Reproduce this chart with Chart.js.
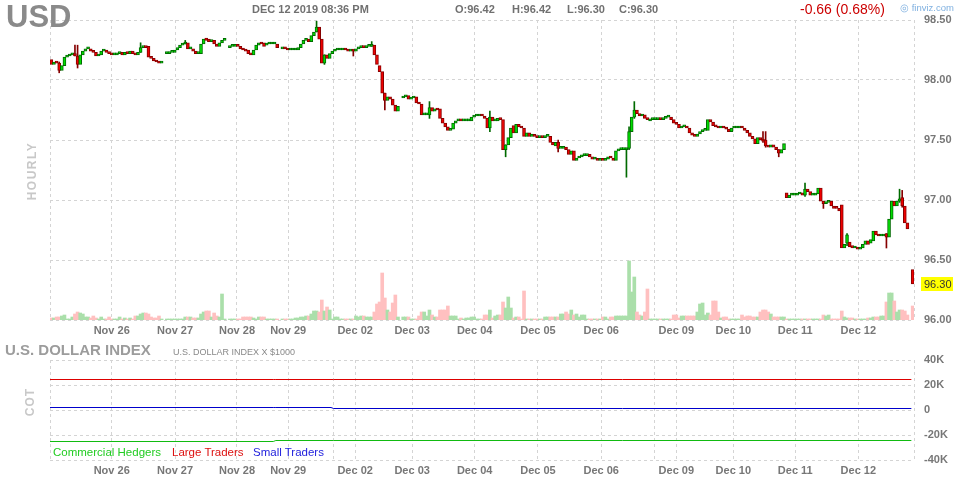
<!DOCTYPE html>
<html>
<head>
<meta charset="utf-8">
<script src="https://cdn.jsdelivr.net/npm/chart.js@4.4.0/dist/chart.umd.min.js"></script>
<style>
  body { margin: 0; background: #fff; width: 964px; height: 480px; overflow: hidden; position: relative; font-family: Arial, "Liberation Sans", sans-serif; }
  canvas { position: absolute; left: 0; }
  .t { position: absolute; white-space: nowrap; line-height: 1; }
  .rot { position: absolute; white-space: nowrap; line-height: 1; transform: rotate(-90deg); transform-origin: center center; font-weight: bold; color: #c8c8c8; }
</style>
</head>
<body>
<canvas id="price" width="964" height="340" style="top:0"></canvas>
<canvas id="cot" width="964" height="140" style="top:340px"></canvas>

<div class="t" style="left:6px;top:1px;font-size:31px;font-weight:bold;color:#8a8a8a">USD</div>
<div class="t" style="left:252px;top:4px;font-size:11px;font-weight:bold;color:#707070">DEC 12 2019 08:36 PM</div>
<div class="t" style="left:455px;top:4px;font-size:11px;font-weight:bold;color:#707070">O:96.42</div>
<div class="t" style="left:512px;top:4px;font-size:11px;font-weight:bold;color:#707070">H:96.42</div>
<div class="t" style="left:567px;top:4px;font-size:11px;font-weight:bold;color:#707070">L:96.30</div>
<div class="t" style="left:619px;top:4px;font-size:11px;font-weight:bold;color:#707070">C:96.30</div>
<div class="t" style="left:800px;top:2px;font-size:14px;color:#cc0000">-0.66 (0.68%)</div>
<div class="t" style="left:900px;top:3px;font-size:9.5px;color:#7fb0e0">&#9678; finviz.com</div>
<div class="rot" style="left:2px;top:165px;width:60px;text-align:center;font-size:12px;letter-spacing:1.5px">HOURLY</div>

<div class="t" style="left:5px;top:342px;font-size:15px;font-weight:bold;color:#9c9c9c">U.S. DOLLAR INDEX</div>
<div class="t" style="left:173px;top:348px;font-size:9px;color:#888">U.S. DOLLAR INDEX X $1000</div>
<div class="rot" style="left:10px;top:396px;width:40px;text-align:center;font-size:12px;letter-spacing:1px">COT</div>
<div class="t" style="left:53px;top:447px;font-size:11.5px;color:#22cc22">Commercial Hedgers</div>
<div class="t" style="left:172px;top:447px;font-size:11.5px;color:#dd1111">Large Traders</div>
<div class="t" style="left:253px;top:447px;font-size:11.5px;color:#2222dd">Small Traders</div>

<script>
const fontFamily = 'Arial, "Liberation Sans", sans-serif';

// x axis: one slot per hourly candle, gridlines at session starts
const slotCount = 329;
const dayTicks = [0, 23.5, 47.6, 71.2, 90.7, 107.8, 116.2, 137.9, 161.7, 185.8, 209.9, 230.3, 238.5, 260.2, 283.8, 307.8, 329];
const dayLabels = ['', 'Nov 26', 'Nov 27', 'Nov 28', 'Nov 29', '', 'Dec 02', 'Dec 03', 'Dec 04', 'Dec 05', 'Dec 06', '', 'Dec 09', 'Dec 10', 'Dec 11', 'Dec 12', ''];

// hourly candles (null = no bar)
const opens = [
  98.17,98.13,98.15,98.14,98.08,98.12,98.19,98.20,98.21,98.22,
  98.20,98.13,98.21,98.24,98.26,98.26,98.24,98.23,98.20,98.21,
  98.24,98.25,98.23,98.22,98.21,98.21,98.22,98.23,98.21,98.23,
  98.22,98.24,98.22,98.21,98.23,98.27,98.28,98.28,98.19,98.18,
  98.16,98.15,98.14,null,98.22,98.22,98.23,98.23,98.25,98.27,
  98.29,98.30,98.31,98.26,98.26,98.24,98.22,98.22,98.30,98.35,
  98.34,98.32,98.33,98.30,98.28,98.31,98.33,null,98.27,98.28,
  98.28,98.29,98.28,98.26,98.25,98.25,98.22,98.21,98.25,98.29,
  98.31,98.31,98.29,98.30,98.30,98.30,98.30,null,98.26,98.27,
  98.26,98.25,98.25,98.25,98.25,98.27,98.30,98.33,98.34,98.32,
  98.37,98.40,98.44,98.34,98.14,98.21,98.18,98.22,98.24,98.25,
  98.25,98.25,98.26,98.25,98.24,98.25,98.24,98.26,98.27,98.28,
  98.27,98.28,98.28,98.29,98.21,98.12,98.07,97.89,97.83,97.86,
  97.84,97.79,97.74,null,97.85,97.86,97.87,97.84,97.85,97.86,
  97.81,97.80,97.71,97.71,97.71,97.77,97.74,97.76,97.76,97.68,
  97.64,97.61,97.58,97.59,97.64,97.66,97.67,97.66,97.66,97.66,
  97.66,97.69,97.70,97.70,97.71,97.70,97.68,97.60,97.69,97.66,
  97.66,97.68,97.67,97.42,97.46,97.52,97.62,97.56,97.63,97.61,
  97.60,97.53,97.56,97.53,97.54,97.53,97.52,97.53,97.52,97.53,
  97.53,97.48,97.45,97.48,97.43,97.43,97.44,97.42,97.38,97.41,
  97.33,97.35,97.36,97.37,97.37,97.38,97.36,97.34,97.34,97.33,
  97.34,97.33,97.34,97.36,97.35,97.33,97.41,97.42,97.42,97.42,
  97.43,97.57,97.69,97.75,97.72,97.70,97.71,97.68,97.66,97.67,
  97.67,97.67,97.68,97.67,97.68,97.69,97.69,97.67,97.64,97.63,
  97.60,97.61,97.61,97.60,97.56,97.54,97.53,97.55,97.57,97.58,
  97.58,97.67,97.65,97.62,97.61,97.60,97.61,97.60,97.59,97.57,
  97.60,97.60,97.60,97.61,97.60,97.58,97.56,97.53,97.51,97.47,
  97.52,97.50,97.50,97.45,97.44,97.46,97.44,97.42,97.39,97.42,
  97.06,97.02,97.04,97.04,97.04,97.05,97.06,97.04,97.09,97.07,
  97.04,97.04,97.05,97.10,96.99,96.97,96.98,96.99,96.95,96.94,
  96.93,96.96,96.60,96.64,96.65,96.62,96.60,96.60,96.59,96.60,
  96.63,96.66,96.64,96.66,96.74,96.71,96.70,96.70,96.72,96.69,
  96.84,96.99,96.95,96.99,97.02,96.95,96.81,null,96.42
];
const closes = [
  98.13,98.15,98.14,98.08,98.12,98.19,98.20,98.21,98.21,98.20,
  98.13,98.21,98.24,98.26,98.26,98.24,98.23,98.20,98.21,98.24,
  98.25,98.23,98.22,98.21,98.21,98.22,98.23,98.21,98.23,98.22,
  98.24,98.22,98.21,98.23,98.27,98.28,98.27,98.19,98.18,98.16,
  98.15,98.14,98.15,null,98.22,98.23,98.23,98.25,98.27,98.29,
  98.30,98.31,98.26,98.26,98.24,98.22,98.22,98.30,98.34,98.33,
  98.32,98.33,98.30,98.28,98.31,98.33,98.33,null,98.28,98.28,
  98.29,98.28,98.26,98.25,98.24,98.22,98.21,98.25,98.29,98.31,
  98.30,98.28,98.30,98.30,98.30,98.30,98.27,null,98.26,98.26,
  98.25,98.25,98.25,98.25,98.27,98.30,98.33,98.33,98.32,98.37,
  98.40,98.44,98.34,98.14,98.21,98.18,98.22,98.24,98.25,98.25,
  98.25,98.26,98.25,98.24,98.25,98.24,98.26,98.27,98.28,98.27,
  98.28,98.28,98.29,98.21,98.13,98.07,97.89,97.83,97.86,97.84,
  97.79,97.74,97.78,null,97.86,97.87,97.84,97.85,97.86,97.81,
  97.80,97.71,97.71,97.72,97.77,97.74,97.76,97.75,97.68,97.64,
  97.61,97.58,97.59,97.64,97.66,97.67,97.66,97.66,97.66,97.67,
  97.69,97.70,97.70,97.71,97.70,97.68,97.60,97.69,97.66,97.66,
  97.68,97.67,97.42,97.46,97.52,97.60,97.56,97.63,97.61,97.60,
  97.53,97.56,97.53,97.55,97.53,97.52,97.53,97.52,97.53,97.53,
  97.48,97.46,97.48,97.43,97.43,97.44,97.42,97.38,97.41,97.33,
  97.35,97.36,97.37,97.37,97.37,97.36,97.34,97.34,97.33,97.34,
  97.33,97.34,97.36,97.35,97.33,97.41,97.42,97.42,97.42,97.43,
  97.57,97.69,97.75,97.72,97.70,97.71,97.68,97.67,97.67,97.67,
  97.67,97.68,97.67,97.68,97.69,97.69,97.67,97.64,97.63,97.60,
  97.61,97.61,97.60,97.56,97.54,97.53,97.55,97.57,97.58,97.58,
  97.67,97.65,97.62,97.61,97.60,97.61,97.60,97.59,97.57,97.60,
  97.60,97.60,97.61,97.60,97.58,97.56,97.53,97.51,97.47,97.52,
  97.50,97.49,97.45,97.44,97.46,97.44,97.42,97.39,97.42,97.47,
  97.02,97.04,97.04,97.04,97.05,97.05,97.04,97.09,97.07,97.04,
  97.04,97.05,97.10,96.99,96.97,96.98,96.99,96.95,96.93,96.93,
  96.91,96.60,96.63,96.71,96.61,96.60,96.60,96.59,96.60,96.63,
  96.66,96.63,96.67,96.74,96.71,96.70,96.70,96.71,96.69,96.84,
  96.99,96.95,96.99,97.01,96.95,96.81,96.76,null,96.30
];
// notable shadows: [slot, high, low]
const wicks = [
  [3, 98.15, 98.06], [9, 98.29, 98.20], [10, 98.29, 98.10], [34, 98.31, 98.23],
  [51, 98.33, 98.30], [101, 98.49, 98.40], [104, 98.21, 98.13], [115, 98.25, 98.20],
  [122, 98.32, 98.28], [127, 97.89, 97.75], [144, 97.82, 97.68], [167, 97.74, 97.57],
  [173, 97.46, 97.36], [193, 97.50, 97.40], [219, 97.43, 97.19], [220, 97.61, 97.42],
  [222, 97.82, 97.68], [271, 97.57, 97.48], [272, 97.57, 97.44], [277, 97.42, 97.36],
  [287, 97.14, 97.03], [294, 96.99, 96.93], [303, 96.72, 96.62], [318, 96.72, 96.60],
  [323, 97.09, 96.98], [324, 97.08, 96.94]
];
const volumes = [
  2,2,3,3,4,5,1,1,3,6,
  8,7,6,3,3,2,4,2,1,3,
  1,1,3,1,1,1,3,1,2,1,
  2,1,4,4,6,7,7,6,3,2,
  2,4,1,null,1,1,1,1,1,1,
  1,3,3,3,2,2,2,6,8,9,
  9,3,7,4,3,26,1,null,1,1,
  1,1,1,3,3,3,3,2,1,3,
  3,3,1,1,1,1,1,null,1,1,
  1,1,1,2,2,3,3,4,4,6,
  9,9,8,20,9,13,10,1,3,3,
  1,1,1,1,1,1,4,3,4,4,
  3,3,3,8,16,18,47,22,10,8,
  17,25,3,null,3,3,3,1,1,1,
  4,8,8,4,10,5,3,3,10,10,
  10,14,4,4,4,1,2,1,2,2,
  3,3,1,1,1,5,5,10,2,4,
  5,5,18,12,23,12,2,3,3,1,
  29,1,1,1,1,1,1,1,3,3,
  3,3,3,3,6,6,8,6,10,5,
  6,3,5,5,1,1,1,1,1,1,
  3,3,1,3,3,4,4,4,4,4,
  59,28,43,8,5,4,8,31,1,1,
  1,1,1,1,1,1,1,5,5,2,
  4,4,4,4,4,4,8,16,17,5,
  7,5,19,19,8,2,3,3,1,1,
  1,1,1,5,3,4,4,3,3,3,
  8,10,10,8,6,3,3,3,3,3,
  1,1,1,1,1,1,1,1,1,1,
  1,1,1,1,5,4,5,1,1,1,
  1,9,3,2,2,2,1,1,1,1,
  1,2,2,3,3,3,4,4,18,27,
  27,19,8,10,10,9,5,null,14
];
const priceTicks = { min: 96.0, max: 98.5, step: 0.5 };

// COT positions (contracts), sampled at slots
const cotSlots = [0, 85, 86, 107, 108, 328];
const cotHedgers = [-25200, -25200, -24400, -24400, -24400, -24400];
const cotLarge = [24400, 24400, 24400, 24400, 24400, 24400];
const cotSmall = [2000, 2000, 2000, 2000, 1200, 1200];

const UP_FILL = '#00dd00', UP_EDGE = '#006a00', DN_FILL = '#ee0000', DN_EDGE = '#860000';
const VOL_UP = '#aadfaa', VOL_DN = '#ffc0c0';

const bodies = [], bodyFill = [], bodyEdge = [], volData = [], volColor = [];
opens.forEach((o, i) => {
  const c = closes[i];
  if (o === null || c === null) return;
  const up = c >= o;
  bodies.push({ x: i + 0.5, y: [o, c] });
  bodyFill.push(up ? UP_FILL : DN_FILL);
  bodyEdge.push(up ? UP_EDGE : DN_EDGE);
  if (volumes[i] !== null) {
    volData.push({ x: i + 0.5, y: volumes[i] });
    volColor.push(up ? VOL_UP : VOL_DN);
  }
});
const wickData = wicks.map(w => ({ x: w[0] + 0.5, y: [w[2], w[1]] }));
const wickColor = wicks.map(w => closes[w[0]] >= opens[w[0]] ? UP_EDGE : DN_EDGE);

const gridOpts = { color: '#d4d4d4', drawTicks: false, offset: false, borderDash: [3, 3] };
const borderOpts = { display: false, dash: [3, 3] };
const tickFont = { family: fontFamily, size: 11, weight: 'bold' };

function xScale() {
  return {
    type: 'linear', min: 0, max: slotCount, offset: false,
    grid: gridOpts, border: borderOpts,
    afterBuildTicks: s => { s.ticks = dayTicks.map(v => ({ value: v })); },
    afterFit: s => { s.height = 20; },
    ticks: { autoSkip: false, maxRotation: 0, padding: 4, color: '#777', font: tickFont,
      callback: (v, i) => dayLabels[i] }
  };
}

const lastPriceTag = {
  id: 'lastPriceTag',
  afterDraw(chart) {
    const last = closes[closes.length - 1];
    const y = chart.scales.y.getPixelForValue(last);
    const x = chart.chartArea.right + 7;
    const ctx = chart.ctx;
    ctx.save();
    ctx.fillStyle = '#ffff00';
    ctx.fillRect(x, Math.round(y) - 7, 32, 14);
    ctx.fillStyle = '#333';
    ctx.font = '11px ' + fontFamily;
    ctx.textBaseline = 'middle';
    ctx.fillText(last.toFixed(2), x + 3, y + 0.5);
    ctx.restore();
  }
};

Chart.defaults.font.family = fontFamily;

new Chart(document.getElementById('price'), {
  data: {
    datasets: [
      { type: 'bar', data: bodies, backgroundColor: bodyFill, borderColor: bodyEdge, borderWidth: 1,
        borderSkipped: false, barThickness: 3, minBarLength: 2, grouped: false, yAxisID: 'y', order: 0 },
      { type: 'bar', data: wickData, backgroundColor: wickColor, barThickness: 1,
        grouped: false, yAxisID: 'y', order: 1 },
      { type: 'bar', data: volData, backgroundColor: volColor, barThickness: 3,
        grouped: false, yAxisID: 'vol', order: 2 }
    ]
  },
  options: {
    responsive: false, animation: false, devicePixelRatio: 1,
    layout: { padding: { left: 50, top: 20, right: 0, bottom: 0 } },
    plugins: { legend: { display: false }, tooltip: { enabled: false } },
    scales: {
      x: xScale(),
      y: {
        position: 'right', min: priceTicks.min, max: priceTicks.max,
        grid: gridOpts, border: borderOpts,
        afterFit: s => { s.width = 50; },
        ticks: { stepSize: priceTicks.step, padding: 10, color: '#777', font: tickFont,
          callback: v => Number(v).toFixed(2) }
      },
      vol: { display: false, min: 0, max: 300 }
    }
  },
  plugins: [lastPriceTag]
});

const cotLine = (vals, color) => ({
  type: 'line', data: cotSlots.map((s, i) => ({ x: s, y: vals[i] })),
  borderColor: color, borderWidth: 1, pointRadius: 0, tension: 0, fill: false
});

new Chart(document.getElementById('cot'), {
  data: {
    datasets: [
      cotLine(cotLarge, '#dd0000'),
      cotLine(cotSmall, '#0000cc'),
      cotLine(cotHedgers, '#11bb11')
    ]
  },
  options: {
    responsive: false, animation: false, devicePixelRatio: 1,
    layout: { padding: { left: 50, top: 20, right: 0, bottom: 0 } },
    plugins: { legend: { display: false }, tooltip: { enabled: false } },
    scales: {
      x: xScale(),
      y: {
        position: 'right', min: -40000, max: 40000,
        grid: gridOpts, border: borderOpts,
        afterFit: s => { s.width = 50; },
        ticks: { stepSize: 20000, padding: 10, color: '#777', font: tickFont,
          callback: v => v === 0 ? '0' : (v / 1000) + 'K' }
      }
    }
  }
});
</script>
</body>
</html>
